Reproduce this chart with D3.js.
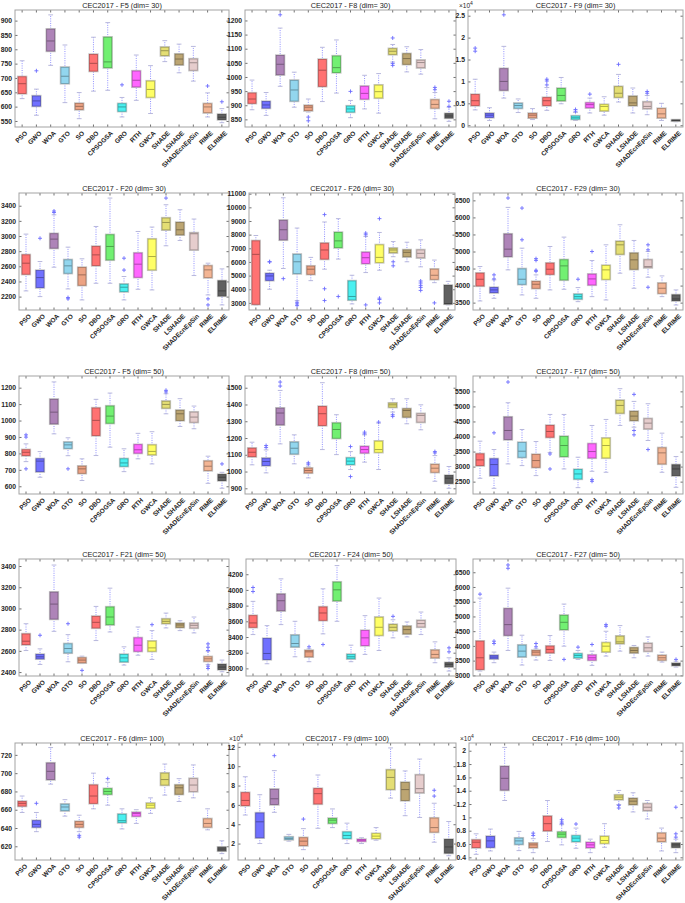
<!DOCTYPE html>
<html>
<head>
<meta charset="utf-8">
<script src="https://cdn.jsdelivr.net/npm/d3@7"></script>
<style>
  body { margin: 0; background: #fff; }
  svg { display: block; }
  text { font-family: "Liberation Sans", Arial, Helvetica, sans-serif; }
</style>
</head>
<body>
<svg id="chart" width="685" height="903"></svg>
<script>
const algorithms = ['PSO', 'GWO', 'WOA', 'GTO', 'SO', 'DBO', 'CPSOGSA', 'GRO', 'RTH', 'GWCA',
  'SHADE', 'LSHADE', 'SHADEcnEpSin', 'RIME', 'ELRIME'];

const titles = ['CEC2017 - F5 (dim= 30)', 'CEC2017 - F8 (dim= 30)', 'CEC2017 - F9 (dim= 30)',
  'CEC2017 - F20 (dim= 30)', 'CEC2017 - F26 (dim= 30)', 'CEC2017 - F29 (dim= 30)',
  'CEC2017 - F5 (dim= 50)', 'CEC2017 - F8 (dim= 50)', 'CEC2017 - F17 (dim= 50)',
  'CEC2017 - F21 (dim= 50)', 'CEC2017 - F24 (dim= 50)', 'CEC2017 - F27 (dim= 50)',
  'CEC2017 - F6 (dim= 100)', 'CEC2017 - F9 (dim= 100)', 'CEC2017 - F16 (dim= 100)'];

// box stats per algorithm: [lower whisker, q1, median, q3, upper whisker]
const f5d30 = [[628,646,680,704,760],[570,602,620,637,661],[744,794,829,870,920],[614,681,706,737,815],
  [558,590,601,611,649],[654,724,751,782,842],[657,736,756,842,893],[564,584,599,610,632],
  [622,669,692,724,780],[576,633,660,689,743],[757,778,795,807,830],[718,746,766,783,818],
  [689,727,753,766,810],[564,579,599,610,648],[544,555,563,573,593]];
const f5d30Out = [[],[725],[],[],[],[],[],[676],[],[],[],[],[],[672],[617]];

const f8d30 = [[884,907,922,943,989],[864,890,901,913,945],[967,1008,1045,1076,1173],[893,915,954,988,1017],
  [876,881,893,899,922],[913,967,1024,1062,1105],[943,1016,1033,1074,1131],[856,876,887,897,917],
  [887,922,942,967,1006],[872,926,948,971,1012],[1053,1080,1091,1100,1115],[1018,1045,1065,1082,1107],
  [1010,1033,1051,1059,1097],[852,890,903,919,945],[843,855,862,870,893]];
const f8d30Out = [[],[],[1220],[],[858,845],[],[],[949],[],[],[1138,1048,1041],[],[],[963,955],[914,896]];

const f9d30 = [[3500,4500,5600,7000,10500],[1100,1800,2300,2700,4000],[6200,8000,10000,12900,18000],
  [2900,3900,4500,5000,6000],[1300,1700,2300,2700,3800],[3400,4500,5600,6300,8600],[4900,5600,6800,8400,10900],
  [1100,1400,1700,2100,2900],[2800,4000,4700,5100,6200],[2300,3300,4300,4700,6500],[5300,6400,7300,8800,11600],
  [2800,4500,5100,6600,8500],[2400,3800,4300,5300,6800],[1100,1700,2600,3800,5000],[800,1000,1100,1200,1300]];
const f9d30Out = [[17600,16900],[],[25200],[],[],[10500,10100,9200],[],[3600,3200],[7100],[],[13900],[],[7700,7300],[],[]];

const f20d30 = [[2275,2496,2641,2751,3025],[2200,2319,2451,2544,2663],[2588,2840,2959,3030,3280],[2301,2509,2606,2685,2853],
  [2156,2350,2487,2584,2699],[2376,2610,2751,2862,3126],[2376,2685,2862,3016,3501],[2156,2266,2324,2363,2465],
  [2297,2456,2628,2774,3060],[2288,2553,2729,2959,3118],[2871,3082,3179,3237,3413],[2941,3016,3082,3179,3347],
  [2478,2818,3030,3040,3224],[2222,2451,2553,2606,2641],[2090,2209,2275,2407,2566]];
const f20d30Out = [[],[2970],[3310,3330],[2187,2170],[],[],[],[2707,2550],[],[],[3501],[],[],[2170,2090],[]];

const f26d30 = [[2850,2900,6556,7543,7938],[4000,4654,4975,5148,5395],[5519,7617,8358,9049,10700],[3173,5148,6012,6556,8482],
  [4630,5099,5469,5692,6334],[5469,6210,6877,7370,8926],[6210,7049,7543,8161,9173],[2926,3222,3470,4605,5025],
  [5222,5889,6309,6704,7864],[5395,5963,6334,7247,8160],[6383,6679,6877,7000,7494],[6012,6383,6704,6877,7444],
  [5642,6309,6630,6877,7617],[4482,4729,5025,5469,6136],[2852,2926,2950,4284,4580]];
const f26d30Out = [[],[6000,6020],[4778],[3050,2926,2800],[],[9469,4037,3173],[3470],[],[8111,7988,2852],
  [9173,3346,3247,3000],[6012,5716],[],[4605,4457,4284,4136,3914],[3000],[]];

const f29d30 = [[3549,3990,4186,4363,4559],[3627,3794,3873,3941,4167],[4461,4853,5069,5510,6294],[3725,4039,4186,4490,5098],
  [3627,3922,4039,4118,4314],[3873,4333,4480,4657,5147],[3892,4167,4578,4755,5422],[3529,3608,3676,3745,3941],
  [3676,4020,4196,4333,4735],[3578,4186,4461,4588,5196],[4363,4922,5196,5294,5784],[3922,4480,4755,4951,5324],
  [4245,4529,4559,4755,5000],[3676,3775,3922,4069,4284],[3431,3559,3608,3725,3873]];
const f29d30Out = [[],[4314,4196],[6569],[6274,5343],[4790,4740,4450,4420],[],[],[4186],[5000],[],[],[],[5196,5049,3951],[],[]];

const f5d50 = [[750,787,807,822,858],[655,689,753,767,811],[919,980,1051,1129,1235],[786,831,852,868,895],
  [635,679,706,722,767],[787,909,1001,1076,1129],[838,984,1027,1088,1167],[689,722,742,767,828],
  [767,802,822,853,922],[736,792,812,851,932],[1041,1076,1098,1117,1163],[964,1001,1041,1062,1133],
  [950,990,1021,1051,1088],[618,696,722,753,783],[588,635,655,671,685]];
const f5d50Out = [[913,899,706],[],[],[706],[],[],[],[],[],[],[1184,1174],[],[],[],[736]];

const f8d50 = [[1040,1089,1115,1139,1175],[992,1036,1060,1079,1129],[1165,1279,1349,1378,1484],[1046,1105,1139,1175,1219],
  [962,992,1006,1020,1032],[1131,1275,1345,1388,1530],[1101,1199,1251,1289,1339],[1012,1042,1062,1081,1119],
  [1056,1111,1131,1149,1219],[1012,1115,1131,1181,1289],[1355,1384,1398,1408,1434],[1285,1325,1364,1374,1434],
  [1249,1295,1335,1345,1398],[942,996,1020,1042,1095],[900,930,960,976,1030]];
const f8d50Out = [[],[1155,1143],[1534,1510],[],[1052,1044],[],[],[1149,970],[1235,1225],[1295],[1339,1329],[],[],[1119,1111],[]];

const f17d50 = [[2611,3033,3222,3422,3845],[2278,2700,3067,3256,3567],[3089,3900,4200,4644,5122],[3033,3311,3511,3800,4233],
  [2700,2978,3200,3400,3833],[3470,3978,4167,4367,4733],[2922,3333,3700,4000,4733],[2300,2589,2756,2900,3311],
  [2844,3289,3500,3756,4367],[2811,3289,3700,3944,4567],[4367,4778,5033,5200,5589],[4311,4533,4678,4833,5167],
  [3867,4256,4444,4589,5089],[2811,3089,3456,3622,4111],[2311,2700,2922,3056,3333]];
const f17d50Out = [[],[4122],[5811],[],[],[3420,2920],[],[],[2567,2511],[],[],[5400,4200,4056],[3567],[],[]];

const f21d50 = [[2603,2659,2691,2759,2856],[2472,2525,2544,2566,2619],[2784,2900,3041,3153,3409],[2497,2581,2622,2666,2753],
  [2480,2488,2513,2534,2550],[2697,2816,2869,2925,3019],[2778,2847,2919,3013,3191],[2466,2497,2534,2566,2638],
  [2559,2597,2653,2722,2825],[2519,2597,2628,2691,2791],[2816,2859,2878,2900,2956],[2791,2822,2844,2859,2884],
  [2769,2816,2841,2859,2919],[2472,2503,2525,2544,2597],[2403,2425,2447,2472,2513]];
const f21d50Out = [[],[2747],[],[2856],[2416],[],[],[],[],[2847],[],[],[],[2666,2634,2603,2456,2434],[]];

const f24d50 = [[3431,3524,3579,3672,3854],[3059,3114,3190,3380,3545],[3558,3735,3862,3946,4141],[3148,3275,3317,3423,3600],
  [3085,3148,3211,3228,3250],[3440,3613,3706,3782,4014],[3600,3862,4001,4099,4310],[3085,3123,3148,3178,3296],
  [3178,3292,3389,3482,3672],[3228,3423,3524,3651,3896],[3389,3482,3524,3558,3620],[3401,3440,3494,3537,3592],
  [3431,3528,3571,3609,3718],[3072,3135,3178,3232,3338],[2966,3021,3051,3072,3135]];
const f24d50Out = [[4031,3980],[],[],[],[3275],[3304],[],[],[],[],[3663],[],[],[],[3262,3211]];

const f27d50 = [[3147,3204,3597,4160,5622],[3429,3564,3620,3676,3790],[3845,4362,4722,5262,5960],[3350,3631,3822,4025,4362],
  [3519,3687,3789,3845,3900],[3507,3766,3879,3991,4351],[3991,4554,4801,5037,5420],[3541,3597,3676,3732,3845],
  [3339,3519,3597,3687,3822],[3654,3800,3991,4104,4497],[3822,4081,4137,4329,4689],[3597,3766,3845,3935,4014],
  [3654,3822,3935,4081,4306],[3451,3519,3597,3676,3789],[3282,3339,3372,3406,3480]];
const f27d50Out = [[5757],[4160,4081],[6747,6635],[],[4081,3969],[],[3541],[3957],[4047],[4722,4666],[],[],[],[],[3541]];

const f6d100 = [[657,664,667,669,675],[636,641,644,648,657],[688,693,702,711,728],[653,659,663,666,671],
  [636,641,644,647,654],[661,667,675,687,700],[665,677,680,683,690],[639,646,648,655,661],
  [645,653,656,657,660],[656,662,665,667,673],[676,687,693,700,710],[669,677,684,687,694],
  [673,680,687,694,709],[638,641,645,650,661],[612,615,617,619,626]];
const f6d100Out = [[],[667],[],[],[632,630],[],[694],[],[],[],[],[],[],[],[]];

const f9d100 = [[49500,59300,64600,72600,89100],[20000,26000,42500,51600,70500],[52300,60300,66300,76100,95400],
  [22500,24200,25300,26700,29500],[13700,17900,22500,26000,35400],[35800,61000,71600,76800,90900],
  [36500,41100,44200,46000,55800],[20000,25300,28400,31900,41100],[20000,22500,23500,24200,26000],
  [23500,25300,27700,30200,36500],[67000,76100,88400,96100,118900],[48800,64600,75800,83200,95100],
  [47000,72600,76800,90900,107400],[21400,31900,36500,46300,61700],[7400,10200,16500,24200,42800]];
const f9d100Out = [[],[],[110900],[],[45300],[],[],[],[],[],[],[],[],[75100,69100],[]];

const f16d100 = [[4450,5460,6270,6600,7530],[4960,5510,6470,7130,8240],[12530,14100,15860,17630,20500],
  [5010,5970,6470,6880,7890],[4700,5460,5870,6120,6800],[6370,7990,9050,10160,12530],[5870,7030,7480,7790,8900],
  [5360,6370,6880,7230,8390],[4700,5460,5870,6220,6730],[5510,6120,6520,7130,9050],[11930,12680,13040,13340,14040],
  [10810,11930,12430,12830,13690],[9750,11020,11520,12030,12530],[4960,6370,6880,7630,8390],[4700,5510,5870,6120,6730]];
const f16d100Out = [[],[],[],[],[7630,7280],[],[9650,9300,9050],[9000],[],[],[11800,11400],[],[],[],[11520,7530,7030]];

// y ranges and tick values
const yDomains = [[529,937],[823,1237],[-400,26300],[2023,3568],[2480,11050],[3284,6716],
  [553,1271],[866,1570],[2089,6011],[2363,3466],[2903,4394],[2978,6950],
  [605,733],[3000,124000],[3600,21160]];
const yTicks = [
  [550,600,650,700,750,800,850,900], [850,900,950,1000,1050,1100,1150,1200], [0,5000,10000,15000,20000,25000],
  [2200,2400,2600,2800,3000,3200,3400], [3000,4000,5000,6000,7000,8000,9000,10000,11000], [3500,4000,4500,5000,5500,6000,6500],
  [600,700,800,900,1000,1100,1200], [900,1000,1100,1200,1300,1400,1500], [2500,3000,3500,4000,4500,5000,5500],
  [2400,2600,2800,3000,3200,3400], [3000,3200,3400,3600,3800,4000,4200], [3000,3500,4000,4500,5000,5500,6000,6500],
  [620,640,660,680,700,720], [20000,40000,60000,80000,100000,120000], [4000,6000,8000,10000,12000,14000,16000,18000,20000]];
const yScaleExp = [0,0,4, 0,0,0, 0,0,0, 0,0,0, 0,4,4];

const statsList = [f5d30, f8d30, f9d30, f20d30, f26d30, f29d30, f5d50, f8d50, f17d50, f21d50, f24d50, f27d50, f6d100, f9d100, f16d100];
const outList = [f5d30Out, f8d30Out, f9d30Out, f20d30Out, f26d30Out, f29d30Out, f5d50Out, f8d50Out, f17d50Out,
  f21d50Out, f24d50Out, f27d50Out, f6d100Out, f9d100Out, f16d100Out];

// styling
const boxColors = ['#ff7272', '#7070ff', '#ae84b8', '#92d6ee', '#eca283', '#ff7272', '#72f072', '#4af0f0',
  '#ff66ff', '#ffff66', '#e4de74', '#bca572', '#e6cdcd', '#f3b594', '#606060'];

// plot frames [left, right, top, bottom]
const frames = [
  [15,229,10,127], [245,456,10,127], [468,683,10,127],
  [19,229,193,310], [249,455,193,310], [473,683,193,310],
  [19,229,376,494], [245,456,376,494], [473,683,376,494],
  [19,229,559,676], [246,456,559,676], [473,683,559,676],
  [15,229,743,860], [238,456,743,860], [469,683,743,860]];

const svg = d3.select('#chart');

titles.forEach((title, i) => {
  const [l, r, t, b] = frames[i];
  const g = svg.append('g');
  const x = d3.scaleBand().domain(algorithms).range([l, r]);
  const y = d3.scaleLinear().domain(yDomains[i]).range([b, t]);
  const bw = x.bandwidth() * 0.56;
  const cx = d => x(d.name) + x.bandwidth() / 2;
  const div = Math.pow(10, yScaleExp[i]);
  const fmt = v => String(+(v / div).toFixed(3));

  const items = algorithms.map((name, k) => ({
    name, s: statsList[i][k], out: outList[i][k], color: boxColors[k]
  }));

  // axes with inward ticks
  const styleAxis = sel => {
    sel.select('.domain').remove();
    sel.selectAll('.tick line').attr('stroke', '#4d4d4d').attr('stroke-width', 0.8);
    sel.selectAll('.tick text').attr('fill', '#262626').style('font-size', '6.8px').style('font-weight', 'bold');
  };
  g.append('g').attr('transform', `translate(${l},0)`)
    .call(d3.axisLeft(y).tickValues(yTicks[i]).tickSize(-2.5).tickPadding(3).tickFormat(fmt))
    .call(styleAxis);
  g.append('g').attr('transform', `translate(${r},0)`)
    .call(d3.axisRight(y).tickValues(yTicks[i]).tickSize(-2.5).tickFormat(''))
    .call(styleAxis);
  g.append('g').attr('transform', `translate(0,${t})`)
    .call(d3.axisTop(x).tickSize(-2.5).tickFormat(''))
    .call(styleAxis);
  const xa = g.append('g').attr('transform', `translate(0,${b})`)
    .call(d3.axisBottom(x).tickSize(-2.5))
    .call(styleAxis);
  xa.selectAll('.tick text')
    .style('font-size', '6.5px')
    .attr('x', 0).attr('y', 0).attr('dy', '0.35em')
    .attr('text-anchor', 'end')
    .attr('transform', 'translate(4,5) rotate(-45)');

  g.append('rect')
    .attr('x', l).attr('y', t).attr('width', r - l).attr('height', b - t)
    .attr('fill', 'none').attr('stroke', '#a3a3a3').attr('stroke-width', 1);

  // whiskers
  g.selectAll('.whisker').data(items).join('line')
    .attr('x1', cx).attr('x2', cx)
    .attr('y1', d => y(d.s[0])).attr('y2', d => y(d.s[4]))
    .attr('stroke', '#8585ff').attr('stroke-width', 0.9).attr('stroke-dasharray', '1,1.3');
  [0, 4].forEach(j => {
    g.selectAll(null).data(items).join('line')
      .attr('x1', d => cx(d) - bw * 0.3).attr('x2', d => cx(d) + bw * 0.3)
      .attr('y1', d => y(d.s[j])).attr('y2', d => y(d.s[j]))
      .attr('stroke', '#b8b8dc').attr('stroke-width', 1);
  });

  // boxes: light halo, fill, darker edge
  g.selectAll(null).data(items).join('rect')
    .attr('x', d => cx(d) - bw / 2).attr('y', d => y(d.s[3]))
    .attr('width', bw).attr('height', d => Math.max(y(d.s[1]) - y(d.s[3]), 0.6))
    .attr('fill', d => d.color).attr('stroke', '#c6c6c6').attr('stroke-width', 2.4);
  g.selectAll(null).data(items).join('rect')
    .attr('x', d => cx(d) - bw / 2).attr('y', d => y(d.s[3]))
    .attr('width', bw).attr('height', d => Math.max(y(d.s[1]) - y(d.s[3]), 0.6))
    .attr('fill', d => d.color)
    .attr('stroke', d => d3.color(d.color).darker(0.9)).attr('stroke-width', 0.8);
  g.selectAll(null).data(items).join('line')
    .attr('x1', d => cx(d) - bw / 2).attr('x2', d => cx(d) + bw / 2)
    .attr('y1', d => y(d.s[2])).attr('y2', d => y(d.s[2]))
    .attr('stroke', d => d3.color(d.color).darker(1.1)).attr('stroke-width', 1);

  // outliers
  const pts = items.flatMap(d => d.out.map(v => ({ x: cx(d), v })));
  g.selectAll(null).data(pts).join('path')
    .attr('d', p => `M${p.x - 2},${y(p.v)}h4M${p.x},${y(p.v) - 2}v4`)
    .attr('stroke', '#6b6bff').attr('stroke-width', 0.9).attr('fill', 'none');

  g.append('text')
    .attr('x', (l + r) / 2).attr('y', t - 2)
    .attr('text-anchor', 'middle')
    .attr('fill', '#222').style('font-size', '7.3px')
    .text(title);

  if (yScaleExp[i]) {
    const ex = g.append('text')
      .attr('x', l - 9).attr('y', t - 2)
      .attr('fill', '#262626').style('font-size', '6.5px')
      .text('\u00d710');
    ex.append('tspan').attr('dy', -3).style('font-size', '5px').text(yScaleExp[i]);
  }
});
</script>
</body>
</html>
